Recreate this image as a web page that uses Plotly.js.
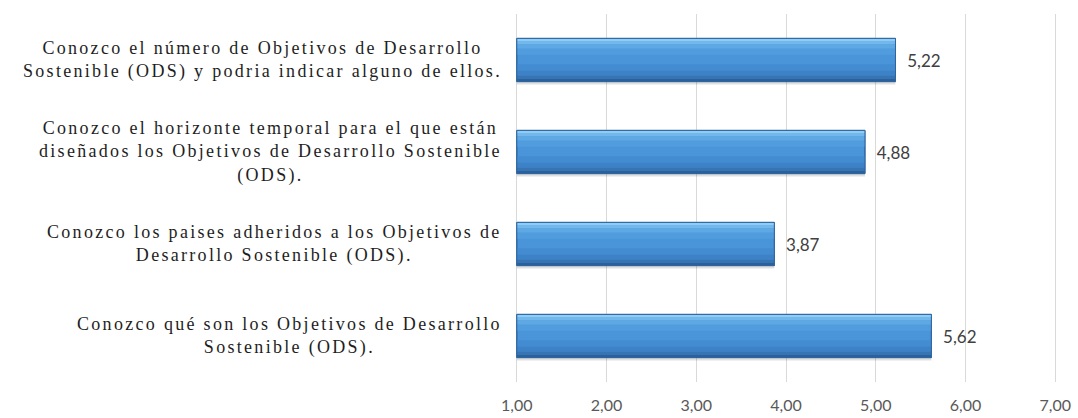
<!DOCTYPE html>
<html>
<head>
<meta charset="utf-8">
<script src="https://cdn.plot.ly/plotly-3.0.1.min.js"></script>
<style>
html,body{margin:0;padding:0;background:#fff;}
#chart{width:1078px;height:418px;}
.annotation-text{letter-spacing:2.3px;}
</style>
</head>
<body>
<div id="chart"></div>
<script>
// Categories (top to bottom)
const categories = [
  "Conozco el número de Objetivos de Desarrollo<br>Sostenible (ODS) y podria indicar alguno de ellos.",
  "Conozco el horizonte temporal para el que están<br>diseñados los Objetivos de Desarrollo Sostenible<br>(ODS).",
  "Conozco los paises adheridos a los Objetivos de<br>Desarrollo Sostenible (ODS).",
  "Conozco qué son los Objetivos de Desarrollo<br>Sostenible (ODS)."
];
const values = [5.22, 4.88, 3.87, 5.62];
const tickValues = [1, 2, 3, 4, 5, 6, 7];

const W = 0.47;
const common = {type:'bar', orientation:'h', x: values, y: categories, hoverinfo:'skip', showlegend:false, cliponaxis:false, base:1};

// gradient strips: [offset from top (fraction of W), thickness (fraction of W), colour]
const strips = [
  [0.00, 0.06, '#8fcdf5'],
  [0.06, 0.08, '#72b8ec'],
  [0.14, 0.10, '#5ea8e4'],
  [0.24, 0.14, '#509cdd'],
  [0.60, 0.14, '#448cd2'],
  [0.74, 0.12, '#3d82c6'],
  [0.86, 0.08, '#3674b4'],
  [0.94, 0.06, '#2c6099']
];

const barLen = values.map(v => v - 1);
const traces = [
  Object.assign({}, common, {
    x: barLen, name:'shadow', width:W, offset:-W/2+0.03,
    marker:{color:'rgba(0,0,0,0.12)', line:{width:0}}
  }),
  Object.assign({}, common, {
    x: barLen, name:'main', width:W, offset:-W/2,
    marker:{color:'#4a94da', line:{color:'#2f659f', width:1}},
    text: values.map(v => '  ' + v.toFixed(2).replace('.', ',')), textposition:'outside',
    textfont:{family:'Lato, "Liberation Sans", sans-serif', size:17, color:'#404040'}
  })
];
strips.forEach(s => {
  traces.push(Object.assign({}, common, {
    x: barLen, width: s[1]*W, offset: -W/2 + s[0]*W,
    marker:{color:s[2], line:{width:0}}
  }));
});
traces.push(Object.assign({}, common, {
  x: barLen, width:W, offset:-W/2,
  marker:{color:'rgba(0,0,0,0)', line:{color:'#2f659f', width:1}}
}));

const annotations = categories.map(c => ({
  xref:'paper', yref:'y', x:-0.02, y:c, xanchor:'right', yanchor:'middle',
  text:c, align:'center', showarrow:false,
  font:{family:'"Liberation Serif", "Times New Roman", serif', size:18, color:'#1e1e1e'}
}));

const layout = {
  width:1078, height:418,
  margin:{l:515, r:21, t:14, b:36, pad:0},
  paper_bgcolor:'#fff', plot_bgcolor:'#fff',
  barmode:'overlay',
  separators:',.',
  xaxis:{
    range:[0.98,7.02], tickvals:tickValues, tickformat:'.2f',
    showgrid:true, gridcolor:'#d9d9d9', gridwidth:1,
    zeroline:false, showline:false, ticks:'',
    ticklabelstandoff:12,
    tickfont:{family:'Lato, "Liberation Sans", sans-serif', size:16, color:'#595959'},
    fixedrange:true
  },
  yaxis:{
    type:'category', autorange:'reversed',
    showticklabels:false, showgrid:false, zeroline:false, showline:false, ticks:'',
    fixedrange:true
  },
  annotations: annotations
};

Plotly.newPlot('chart', traces, layout, {displayModeBar:false, staticPlot:true});
</script>
</body>
</html>
